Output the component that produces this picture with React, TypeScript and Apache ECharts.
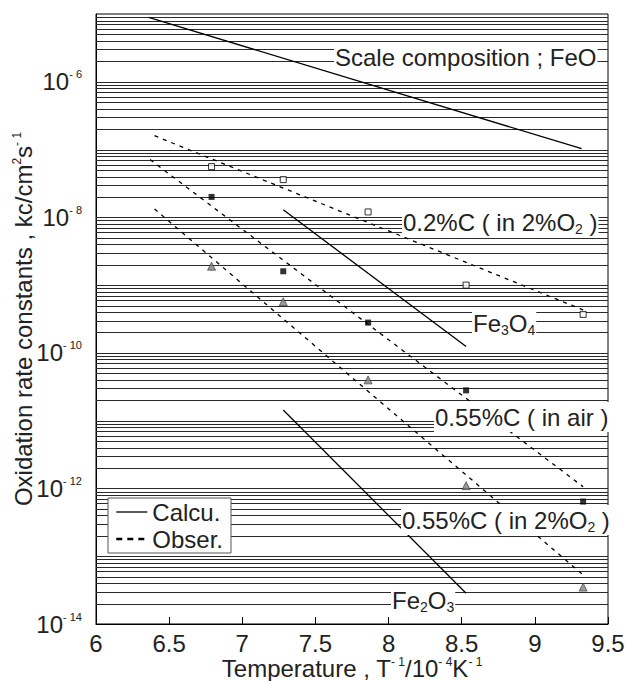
import React, { useEffect, useRef } from 'react';
import * as echarts from 'echarts';

const FONT = '"Liberation Sans", Arial, Helvetica, sans-serif';

// Observation temperatures (10^4 / T)
const tempX = [6.79, 7.28, 7.86, 8.53, 9.33];
// Observed values
const obs02 = [5.6e-8, 3.6e-8, 1.2e-8, 1.0e-9, 3.7e-10];      // 0.2%C in 2%O2 (open squares)
const obsAir = [2.0e-8, 1.6e-9, 2.8e-10, 2.8e-11, 6.4e-13];    // 0.55%C in air (filled squares)
const obsO2 = [1.9e-9, 5.7e-10, 4.0e-11, 1.1e-12, 3.5e-14];    // 0.55%C in 2%O2 (triangles)

// Observed fit lines (dashed)
const fit02X = [6.4, 9.33];
const fit02Y = [1.6e-7, 4.3e-10];
const fitAirX = [6.37, 9.33];
const fitAirY = [7.1e-8, 1.06e-12];
const fitO2X = [6.4, 9.33];
const fitO2Y = [1.33e-8, 5.3e-14];

// Calculated lines (solid)
const feoX = [6.36, 9.32];
const feoY = [8.9e-6, 1.03e-7];
const fe3o4X = [7.28, 8.53];
const fe3o4Y = [1.29e-8, 1.24e-10];
const fe2o3X = [7.28, 8.53];
const fe2o3Y = [1.44e-11, 2.84e-14];

// Axis structure
const gridDecades = [-14, -13, -12, -11, -10, -9, -8, -7, -6];
const gridMultipliers = [1, 2, 3, 4, 5, 6, 7, 8, 9];
const yLabelExponents = [-14, -12, -10, -8, -6];

const pairs = (xs: number[], ys: number[]) => xs.map((x, i) => [x, ys[i]]);

const gridValues: number[] = [];
gridDecades.forEach((d) => {
  gridMultipliers.forEach((m) => {
    const v = m * Math.pow(10, d);
    if (v > 1e-14 * 1.01 && v < 1e-5 * 0.99) gridValues.push(v);
  });
});

const solid = { color: '#000', width: 1.3, type: 'solid' as const };
const dashed = { color: '#000', width: 1.3, type: [4, 5] as any };

const FS = 24;

function buildOption(): any {
  return {
    animation: false,
    backgroundColor: '#fff',
    textStyle: { fontFamily: FONT },
    grid: {
      left: 96,
      right: 18,
      top: 14,
      bottom: 57,
      containLabel: false,
      outerBoundsMode: 'none',
      show: true,
      borderColor: '#000',
      borderWidth: 1,
      backgroundColor: 'transparent',
    },
    legend: {
      left: 108,
      top: 498,
      orient: 'vertical',
      backgroundColor: '#fff',
      borderColor: '#555',
      borderWidth: 1,
      borderRadius: 0,
      padding: [2, 8, 2, 7],
      itemGap: 3,
      itemWidth: 31,
      itemHeight: 22,
      z: 50,
      textStyle: { fontSize: FS, color: '#222', fontFamily: FONT },
      itemStyle: { color: 'rgba(0,0,0,0)', borderColor: 'rgba(0,0,0,0)', borderWidth: 0 },
      data: [
        { name: 'Calcu.', lineStyle: { width: 1.3, type: 'solid', color: '#000' } },
        { name: 'Obser.', lineStyle: { width: 2.6, type: [6, 5], color: '#000' } },
      ],
    },
    xAxis: {
      type: 'value',
      min: 6,
      max: 9.5,
      interval: 0.5,
      name: 'Temperature , T{s|- 1}/10{s|- 4}K{s|- 1}',
      nameLocation: 'middle',
      nameGap: 32,
      nameMoveOverlap: false,
      nameTextStyle: {
        fontSize: FS,
        color: '#222',
        fontFamily: FONT,
        lineHeight: 24,
        rich: { s: { fontSize: 12, verticalAlign: 'top', lineHeight: 16, color: '#222', fontFamily: FONT } },
      },
      axisLine: { show: true, lineStyle: { color: '#000', width: 1 } },
      axisTick: { show: true, inside: true, length: 7, lineStyle: { color: '#000', width: 1 } },
      axisLabel: { fontSize: FS, color: '#222', margin: 7, fontFamily: FONT },
      splitLine: { show: false },
    },
    yAxis: {
      type: 'log',
      logBase: 10,
      min: 1e-14,
      max: 1e-5,
      name: 'Oxidation rate constants , kc/cm{s|2}s{s|- 1}',
      nameLocation: 'middle',
      nameGap: 61,
      nameRotate: 90,
      nameMoveOverlap: false,
      nameTextStyle: {
        fontSize: FS,
        color: '#222',
        fontFamily: FONT,
        lineHeight: 24,
        rich: { s: { fontSize: 12, verticalAlign: 'top', lineHeight: 16, color: '#222', fontFamily: FONT } },
      },
      axisLine: { show: true, lineStyle: { color: '#000', width: 1 } },
      axisTick: { show: false },
      splitLine: { show: false },
      minorTick: { show: false },
      axisLabel: {
        margin: 14,
        color: '#222',
        formatter: (v: number) => {
          const e = Math.round(Math.log10(v));
          return yLabelExponents.includes(e) ? `{b|10}{s|- ${-e}}` : '';
        },
        rich: {
          b: { fontSize: FS, lineHeight: 26, color: '#222', fontFamily: FONT },
          s: { fontSize: 11, lineHeight: 19, verticalAlign: 'top', color: '#222', fontFamily: FONT },
        },
      },
    },
    series: [
      {
        name: 'grid',
        type: 'custom',
        silent: true,
        z: 1,
        data: gridValues.map((v) => [6, v]),
        renderItem: (params: any, api: any) => {
          const cs = params.coordSys;
          const y = Math.round(api.coord([6, api.value(1)])[1]) + 0.5;
          return {
            type: 'line',
            shape: { x1: cs.x, y1: y, x2: cs.x + cs.width, y2: y },
            style: { stroke: '#2a2a2a', lineWidth: 1 },
          };
        },
      },
      { name: 'Calcu.', type: 'line', data: pairs(feoX, feoY), symbol: 'none', lineStyle: solid, itemStyle: { color: '#000' }, z: 3 },
      { name: 'Calcu.', type: 'line', data: pairs(fe3o4X, fe3o4Y), symbol: 'none', lineStyle: solid, itemStyle: { color: '#000' }, z: 3 },
      { name: 'Calcu.', type: 'line', data: pairs(fe2o3X, fe2o3Y), symbol: 'none', lineStyle: solid, itemStyle: { color: '#000' }, z: 3 },
      { name: 'Obser.', type: 'line', data: pairs(fit02X, fit02Y), symbol: 'none', lineStyle: dashed, itemStyle: { color: '#000' }, z: 3 },
      { name: 'Obser.', type: 'line', data: pairs(fitAirX, fitAirY), symbol: 'none', lineStyle: dashed, itemStyle: { color: '#000' }, z: 3 },
      { name: 'Obser.', type: 'line', data: pairs(fitO2X, fitO2Y), symbol: 'none', lineStyle: dashed, itemStyle: { color: '#000' }, z: 3 },
      {
        name: 'pts02',
        type: 'scatter',
        data: pairs(tempX, obs02),
        symbol: 'rect',
        symbolSize: 6,
        itemStyle: { color: '#fff', borderColor: '#000', borderWidth: 1 },
        z: 4,
      },
      {
        name: 'ptsAir',
        type: 'scatter',
        data: pairs(tempX, obsAir),
        symbol: 'rect',
        symbolSize: 6,
        itemStyle: { color: '#000' },
        z: 4,
      },
      {
        name: 'ptsO2',
        type: 'scatter',
        data: pairs(tempX, obsO2),
        symbol: 'triangle',
        symbolSize: 8,
        itemStyle: { color: '#808080', borderColor: '#333', borderWidth: 0.8 },
        z: 4,
      },
    ],
    graphic: [
      annot('Scale composition ; FeO', 334, 57),
      annot('0.2%C ( in 2%O{sub|2} )', 402, 222),
      annot('Fe{sub|3}O{sub|4}', 472, 323),
      annot('0.55%C ( in air )', 434, 417),
      annot('0.55%C ( in 2%O{sub|2} )', 401, 520),
      annot('Fe{sub|2}O{sub|3}', 391, 600),
    ],
  };
}

function annot(text: string, x: number, y: number) {
  return {
    type: 'text',
    x,
    y,
    z: 100,
    silent: true,
    style: {
      text,
      fill: '#222',
      fontSize: FS,
      fontFamily: FONT,
      lineHeight: 28,
      align: 'left',
      verticalAlign: 'middle',
      backgroundColor: '#fff',
      padding: [1, 1, 1, 1],
      rich: {
        sub: { fontSize: 14, lineHeight: 15, verticalAlign: 'bottom', fill: '#222', fontFamily: FONT },
      },
    },
  };
}

export default function App() {
  const ref = useRef<HTMLDivElement>(null);
  useEffect(() => {
    const chart = echarts.init(ref.current!, null, { renderer: 'svg' });
    chart.setOption(buildOption());
    return () => chart.dispose();
  }, []);
  return (
    <div
      ref={ref}
      style={{ position: 'fixed', left: 0, top: 0, width: 626, height: 681, background: '#fff' }}
    />
  );
}
